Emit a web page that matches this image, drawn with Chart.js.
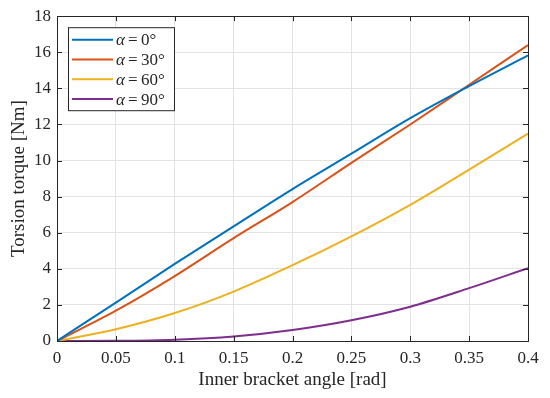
<!DOCTYPE html>
<html>
<head>
<meta charset="utf-8">
<script src="https://cdn.jsdelivr.net/npm/chart.js@4"></script>
<style>
  html, body { margin: 0; padding: 0; background: #fff; }
  #wrap { width: 550px; height: 398px; }
</style>
</head>
<body>
<div id="wrap"><canvas id="torqueChart" width="550" height="398"></canvas></div>
<script>
// inner bracket angle [rad]
const angles = [0, 0.05, 0.1, 0.15, 0.2, 0.25, 0.3, 0.35, 0.4];
// torsion torque [Nm] for each alpha
const alpha0 = [0, 2.13, 4.27, 6.35, 8.42, 10.38, 12.35, 14.13, 15.83];
const alpha30 = [0, 1.68, 3.6, 5.7, 7.7, 9.87, 12.0, 14.2, 16.4];
const alpha60 = [0, 0.65, 1.55, 2.74, 4.2, 5.8, 7.55, 9.5, 11.5];
const alpha90 = [0, 0.01, 0.07, 0.25, 0.61, 1.15, 1.9, 2.93, 4.04];
const alphaLabels = ["0°", "30°", "60°", "90°"];
const xTicks = [0, 0.05, 0.1, 0.15, 0.2, 0.25, 0.3, 0.35, 0.4];
const yTicks = [0, 2, 4, 6, 8, 10, 12, 14, 16, 18];

const colors = ["#0072BD", "#D95319", "#EDB120", "#7E2F8E"];
const axisColor = "#262626";
const serif = "'Liberation Serif', 'DejaVu Serif', serif";

const toXY = ys => angles.map((a, i) => ({ x: a, y: ys[i] }));
const series = [alpha0, alpha30, alpha60, alpha90];

// box, inward ticks and legend, drawn like the matlab figure
const matlabAxes = {
  id: "matlabAxes",
  afterDatasetsDraw(chart) {
    const { ctx, chartArea: a, scales } = chart;
    ctx.save();
    ctx.strokeStyle = axisColor;
    ctx.lineWidth = 1;
    ctx.beginPath();
    xTicks.forEach(v => {
      const px = Math.round(scales.x.getPixelForValue(v)) + 0.5;
      ctx.moveTo(px, a.bottom); ctx.lineTo(px, a.bottom - 5);
      ctx.moveTo(px, a.top); ctx.lineTo(px, a.top + 5);
    });
    yTicks.forEach(v => {
      const py = Math.round(scales.y.getPixelForValue(v)) + 0.5;
      ctx.moveTo(a.left, py); ctx.lineTo(a.left + 5, py);
      ctx.moveTo(a.right, py); ctx.lineTo(a.right - 5, py);
    });
    ctx.stroke();
    ctx.strokeRect(Math.round(a.left) + 0.5, Math.round(a.top) + 0.5,
      Math.round(a.right - a.left), Math.round(a.bottom - a.top));

    // legend
    const bx = a.left + 11, by = a.top + 11, bw = 106, bh = 83;
    ctx.fillStyle = "#fff";
    ctx.fillRect(bx, by, bw, bh);
    ctx.strokeRect(bx + 0.5, by + 0.5, bw, bh);
    ctx.textBaseline = "middle";
    chart.data.datasets.forEach((ds, i) => {
      const y = by + 12.5 + i * 19.8;
      ctx.strokeStyle = ds.borderColor;
      ctx.lineWidth = 2;
      ctx.beginPath();
      ctx.moveTo(bx + 4, y); ctx.lineTo(bx + 45, y);
      ctx.stroke();
      ctx.fillStyle = axisColor;
      ctx.font = "italic 17px " + serif;
      ctx.fillText("α", bx + 48, y + 1);
      ctx.font = "17px " + serif;
      ctx.fillText("=", bx + 60, y + 1);
      ctx.fillText(alphaLabels[i], bx + 73, y + 1);
    });
    ctx.restore();
  }
};

new Chart(document.getElementById("torqueChart"), {
  type: "line",
  data: {
    datasets: series.map((s, i) => ({
      label: "α = " + alphaLabels[i],
      data: toXY(s),
      borderColor: colors[i],
      borderWidth: 2,
      pointRadius: 0,
      fill: false,
      cubicInterpolationMode: "monotone",
    })),
  },
  options: {
    responsive: false,
    animation: false,
    layout: { padding: { left: 0, right: 22, top: 16, bottom: 0 } },
    plugins: { legend: { display: false }, tooltip: { enabled: false } },
    scales: {
      x: {
        type: "linear",
        min: 0,
        max: 0.4,
        afterBuildTicks: s => { s.ticks = xTicks.map(v => ({ value: v })); },
        afterFit: s => { s.height = 57; },
        ticks: {
          color: axisColor,
          font: { family: serif, size: 17 },
          padding: 7,
          maxRotation: 0,
          callback: v => String(+v.toFixed(2)),
        },
        grid: { color: "#e3e3e3", drawTicks: false },
        border: { display: false },
        title: {
          display: true,
          text: "Inner bracket angle [rad]",
          color: axisColor,
          font: { family: serif, size: 19 },
          padding: { top: 0, bottom: 7 },
        },
      },
      y: {
        min: 0,
        max: 18,
        afterBuildTicks: s => { s.ticks = yTicks.map(v => ({ value: v })); },
        afterFit: s => { s.width = 57; },
        ticks: {
          color: axisColor,
          font: { family: serif, size: 17 },
          padding: 6,
        },
        grid: { color: "#e3e3e3", drawTicks: false },
        border: { display: false },
        title: {
          display: true,
          text: "Torsion torque [Nm]",
          color: axisColor,
          font: { family: serif, size: 19 },
          padding: { top: 8, bottom: 0 },
        },
      },
    },
  },
  plugins: [matlabAxes],
});
</script>
</body>
</html>
